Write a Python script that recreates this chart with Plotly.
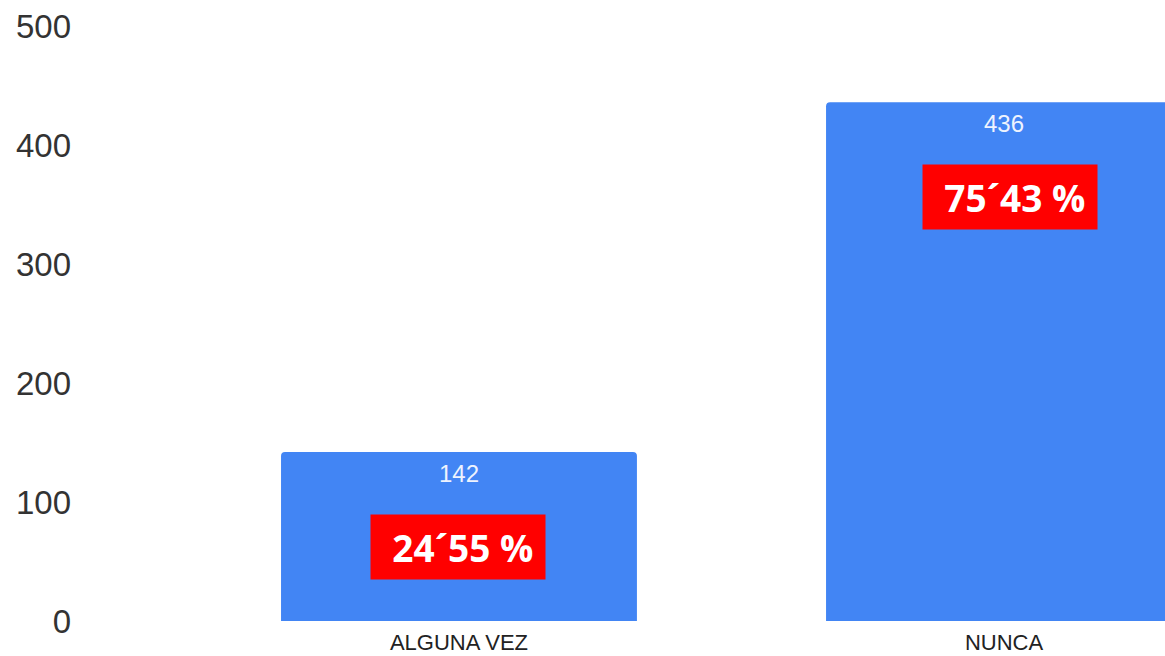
import plotly.graph_objects as go

categories = ["ALGUNA VEZ", "NUNCA"]
values = [142, 436]
pct_labels = ["24\u00b455 %", "75\u00b443 %"]
y_ticks = [0, 100, 200, 300, 400, 500]

BLUE = "#4285F4"

fig = go.Figure()
fig.add_trace(go.Bar(
    x=categories, y=values,
    marker=dict(color=BLUE, line=dict(width=0)),
    width=0.653,
    hoverinfo="x+y",
))

# value labels inside top of bars
for c, v in zip(categories, values):
    fig.add_annotation(
        x=c, y=v, xref="x", yref="y", text=str(v), showarrow=False,
        yshift=-21, font=dict(family="Liberation Sans, Arial, sans-serif", size=24, color="#eef3fe"),
    )

# red percentage boxes
pct_xshift = [-1, 6]
for c, v, p, xs in zip(categories, values, pct_labels, pct_xshift):
    fig.add_annotation(
        x=c, y=v - 80, xref="x", yref="y", text="\u00a0" + p, showarrow=False,
        xshift=xs, bgcolor="#FF0000", width=174, height=64, borderpad=0,
        font=dict(family="Open Sans, sans-serif", size=37, color="white", weight="bold"),
    )

fig.update_layout(
    width=1165, height=656,
    margin=dict(l=90, r=0, t=26, b=35),
    paper_bgcolor="white", plot_bgcolor="white",
    showlegend=False,
    barcornerradius=4,
    xaxis=dict(
        range=[-0.677, 1.2954], showgrid=False, zeroline=False, showline=False,
        ticks="", tickfont=dict(family="Liberation Sans, Arial, sans-serif", size=22, color="#222222"),
        ticklabelstandoff=6, fixedrange=True,
    ),
    yaxis=dict(
        range=[0, 500], tickvals=y_ticks, showgrid=False, zeroline=False, showline=False,
        ticks="", tickfont=dict(family="Liberation Sans, Arial, sans-serif", size=33, color="#333333"),
        ticklabelstandoff=18, ticklabeloverflow="allow", fixedrange=True,
    ),
)

fig.write_html(
    "out.html",
    config={"displayModeBar": False},
    post_script="document.body.style.margin='0';document.body.style.overflow='hidden';",
)
